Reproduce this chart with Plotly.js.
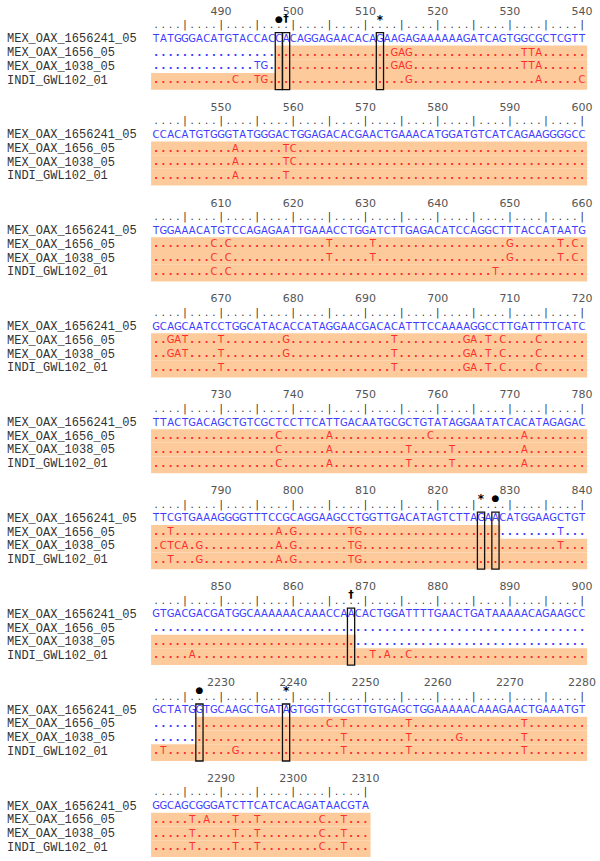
<!DOCTYPE html>
<html><head><meta charset="utf-8">
<script src="https://cdn.plot.ly/plotly-3.0.1.min.js"></script>
<style>html,body{margin:0;padding:0;background:#fff}#chart{width:600px;height:861px}</style>
</head><body><div id="chart"></div>
<script>
// ---------- data ----------
const sampleNames = ['MEX_OAX_1656241_05', 'MEX_OAX_1656_05', 'MEX_OAX_1038_05', 'INDI_GWL102_01'];
const blockStarts = [481, 541, 601, 661, 721, 781, 841, 2221, 2281];
const refBlocks = [
  'TATGGGACATGTACCACCACAGGAGAACACAGAAGAGAAAAAAGATCAGTGGCGCTCGTT',
  'CCACATGTGGGTATGGGACTGGAGACACGAACTGAAACATGGATGTCATCAGAAGGGGCC',
  'TGGAAACATGTCCAGAGAATTGAAACCTGGATCTTGAGACATCCAGGCTTTACCATAATG',
  'GCAGCAATCCTGGCATACACCATAGGAACGACACATTTCCAAAAGGCCTTGATTTTCATC',
  'TTACTGACAGCTGTCGCTCCTTCATTGACAATGCGCTGTATAGGAATATCACATAGAGAC',
  'TTCGTGAAAGGGGTTTCCGCAGGAAGCCTGGTTGACATAGTCTTAGAACATGGAAGCTGT',
  'GTGACGACGATGGCAAAAAACAAACCAACACTGGATTTTGAACTGATAAAAACAGAAGCC',
  'GCTATGGTGCAAGCTGATAGTGGTTGCGTTGTGAGCTGGAAAAACAAAGAACTGAAATGT',
  'GGCAGCGGGATCTTCATCACAGATAACGTA'
];
// differences from reference: "position:letters"
const diffs1656 = ['514:GAG','532:TTA','552:A','559:TC','609:C','611:C','625:T','631:T','650:G','657:T','659:C',
  '663:GAT','670:T','679:G','694:T','704:GA','707:T','709:C','714:C','738:C','745:A','759:C','772:A',
  '783:T','798:A','800:G','808:TG','837:T','2245:C','2247:T','2256:T','2272:T',
  '2286:T','2288:A','2292:T','2295:T','2304:C','2307:T'];
const diffs1038 = ['495:TG','514:GAG','532:TTA','552:A','559:TC','609:C','611:C','625:T','631:T','650:G','657:T','659:C',
  '663:GAT','670:T','679:G','694:T','704:GA','707:T','709:C','714:C','738:C','745:A','756:T','762:T','772:A',
  '782:CTCA','787:G','798:A','800:G','808:TG','837:T','2247:T','2256:T','2263:G','2272:T',
  '2286:T','2292:T','2295:T','2304:C','2307:T'];
const diffsINDI = ['492:C','495:TG','516:G','534:A','540:C','552:A','559:T','609:C','611:C','648:T',
  '670:T','694:T','704:GA','707:T','709:C','714:C','738:C','745:A','756:T','762:T','772:A',
  '783:T','787:G','798:A','800:G','808:TG','846:A','871:T','873:A','876:C',
  '2222:T','2232:G','2247:T','2256:T','2272:T','2286:T','2292:T','2295:T','2304:C','2307:T'];
// sequenced (compared) regions
const cover1656 = [[498, 828], [2227, 2310]];
const cover1038 = [[498, 868], [2227, 2310]];
const coverINDI = [[481, 900], [2221, 2310]];
// marked sites
const markerPos = [498, 499, 512, 826, 828, 868, 2227, 2239];
const markerSym = ['●', '†', '*', '*', '●', '†', '●', '*'];

// ---------- layout constants ----------
const CW = 7.22, X0 = 152.5, LH = 13.7, Y0 = 12, W = 600, H = 861;
const xr = [-X0 / CW, (W - X0) / CW];
const yr = [(H - Y0) / LH, -Y0 / LH];
const BLUE = '#3c3cff', RED = '#ff2d2d', ORANGE = '#fdcb9b';

function diffMap(list) {
  const m = {};
  list.forEach(s => { const [p, l] = s.split(':'); for (let k = 0; k < l.length; k++) m[+p + k] = l[k]; });
  return m;
}
const samples = [
  {d: diffMap(diffs1656), c: cover1656},
  {d: diffMap(diffs1038), c: cover1038},
  {d: diffMap(diffsINDI), c: coverINDI}
];
const covered = (cov, p) => cov.some(r => p >= r[0] && p <= r[1]);

const lx = [], ly = [], lt = [], lc = [];   // letters
const dx = [], dy = [], dc = [];            // dots
const rx = [], ry = [], rt = [];
const nx = [], ny = [], nt = [];
const shapes = [], annotations = [];
const sym = {'●': {x: [], y: []}, '†': {x: [], y: []}, '*': {x: [], y: []}};

function put(ch, x, y, col) {
  if (ch === '.') { dx.push(x); dy.push(y); dc.push(col); }
  else { lx.push(x); ly.push(y); lt.push(ch); lc.push(col); }
}

blockStarts.forEach((bs, b) => {
  const ref = refBlocks[b], n = ref.length, yb = b * 7;
  for (let i = 0; i < n; i++) {
    const p = bs + i, x = i + 0.5;
    rx.push(x); ry.push(yb + 1); rt.push(p % 5 === 0 ? '|' : '.');
    if (p % 10 === 0) { nx.push(x); ny.push(yb); nt.push(String(p)); }
    put(ref[i], x, yb + 2, BLUE);
    samples.forEach((s, k) => put(s.d[p] || '.', x, yb + 3 + k, covered(s.c, p) ? RED : BLUE));
  }
  samples.forEach((s, k) => {
    s.c.forEach(r => {
      const a = Math.max(r[0], bs), e = Math.min(r[1], bs + n - 1);
      if (a > e) return;
      shapes.push({type: 'rect', xref: 'x', yref: 'y', layer: 'below',
        x0: (a - bs) - (a === bs ? 0.2 : 0), x1: (e - bs) + 1.2,
        y0: yb + 3 + k - 0.55, y1: yb + 3 + k + (k === 2 ? 0.67 : 0.45),
        fillcolor: ORANGE, line: {width: 0}});
    });
  });
  markerPos.forEach((p, m) => {
    if (p < bs || p >= bs + n) return;
    const i = p - bs;
    shapes.push({type: 'rect', xref: 'x', yref: 'y', layer: 'above',
      x0: i, x1: i + 1, y0: yb + 2 - 0.49, y1: yb + 5.67,
      fillcolor: 'rgba(0,0,0,0)', line: {color: '#111', width: 1.3}});
    sym[markerSym[m]].x.push(i + 0.5); sym[markerSym[m]].y.push(yb + 0.55);
  });
  sampleNames.forEach((name, k) => {
    annotations.push({x: xr[0] + 6 / CW, y: yb + 2 + k, xref: 'x', yref: 'y', text: name,
      showarrow: false, xanchor: 'left', yanchor: 'middle', borderpad: 0,
      font: {family: 'Liberation Mono, Courier New, monospace', size: 12, color: '#333'}});
  });
});

const base = {mode: 'text', textposition: 'middle center', hoverinfo: 'none'};
const traces = [
  Object.assign({x: nx, y: ny, text: nt, textfont: {family: 'DejaVu Sans, Verdana, sans-serif', size: 11, color: '#555'}}, base),
  Object.assign({x: rx, y: ry, text: rt, textfont: {family: 'DejaVu Sans, Verdana, sans-serif', size: 10, color: '#2a2a2a'}}, base),
  Object.assign({x: lx, y: ly, text: lt, textfont: {family: 'DejaVu Sans, Verdana, sans-serif', size: 10, color: lc}}, base),
  Object.assign({x: dx, y: dy, text: dx.map(() => '.'), textfont: {family: 'DejaVu Sans, Verdana, sans-serif', size: 10, weight: 'bold', color: dc}}, base),
  Object.assign({x: sym['●'].x, y: sym['●'].y, text: sym['●'].x.map(() => '●'), textfont: {family: 'DejaVu Sans', size: 9, color: '#000'}}, base),
  Object.assign({x: sym['†'].x, y: sym['†'].y, text: sym['†'].x.map(() => '†'), textfont: {family: 'DejaVu Sans', size: 11, color: '#000', weight: 'bold'}}, base),
  Object.assign({x: sym['*'].x, y: sym['*'].y.map(v => v + 0.1), text: sym['*'].x.map(() => '*'), textfont: {family: 'DejaVu Sans', size: 12, color: '#000', weight: 'bold'}}, base)
];

const layout = {
  width: W, height: H, margin: {l: 0, r: 0, t: 0, b: 0},
  paper_bgcolor: '#fff', plot_bgcolor: '#fff', showlegend: false,
  xaxis: {range: xr, visible: false, fixedrange: true},
  yaxis: {range: yr, visible: false, fixedrange: true},
  shapes: shapes, annotations: annotations
};
Plotly.newPlot('chart', traces, layout, {staticPlot: true, displayModeBar: false});
</script>
</body></html>
